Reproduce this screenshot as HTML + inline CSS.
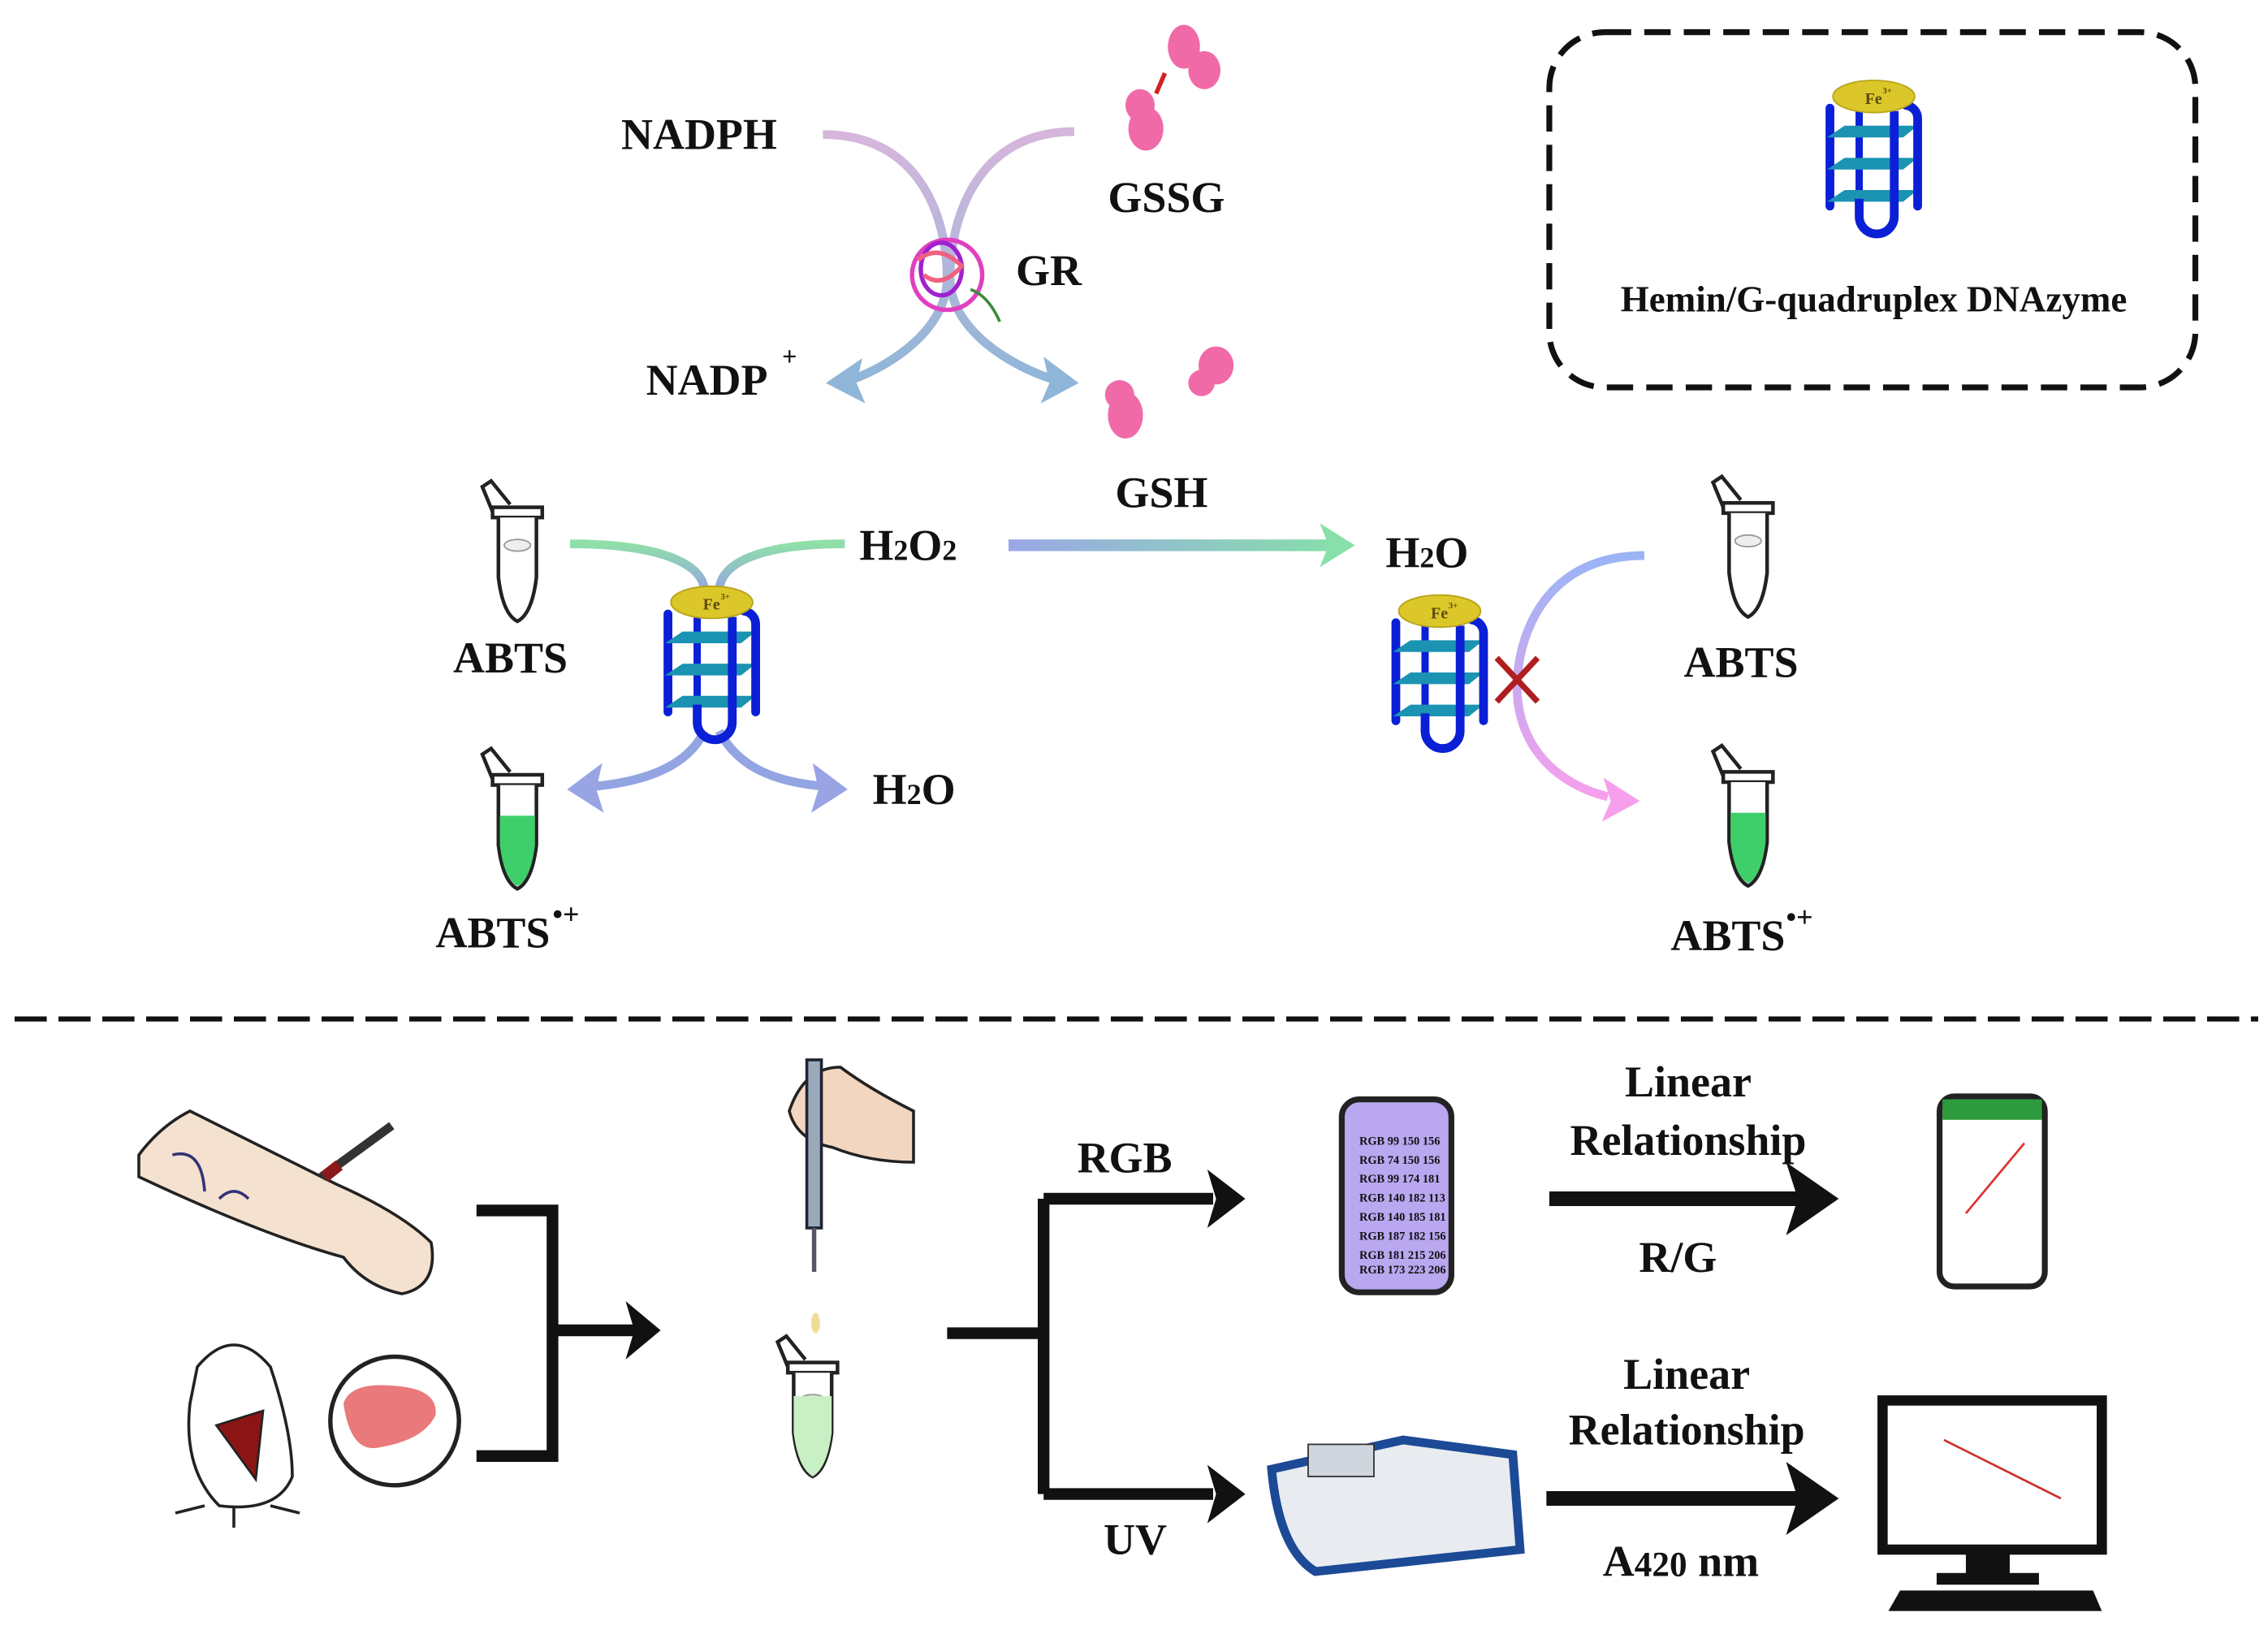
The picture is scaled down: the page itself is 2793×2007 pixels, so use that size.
<!DOCTYPE html>
<html><head><meta charset="utf-8"><style>
html,body{margin:0;padding:0;background:#fff}
svg{display:block}
text{font-family:"Liberation Serif","Times New Roman","DejaVu Serif",serif;font-weight:bold;fill:#111}
</style></head><body>
<svg width="2793" height="2007" viewBox="0 0 1551.7 1115" preserveAspectRatio="none" xmlns="http://www.w3.org/2000/svg" font-family="Liberation Serif, serif">
<defs>
<linearGradient id="gp" x1="0" y1="0" x2="0" y2="1"><stop offset="0" stop-color="#d7b6dc"/><stop offset="1" stop-color="#8fb6d8"/></linearGradient>
<linearGradient id="gh" gradientUnits="userSpaceOnUse" x1="690" y1="0" x2="920" y2="0"><stop offset="0" stop-color="#9aa8e6"/><stop offset="1" stop-color="#86e0a8"/></linearGradient>
<linearGradient id="gg" x1="0" y1="0" x2="0" y2="1"><stop offset="0" stop-color="#8fe0a8"/><stop offset="1" stop-color="#93a4e2"/></linearGradient>
<linearGradient id="gr" x1="0" y1="0" x2="0" y2="1"><stop offset="0" stop-color="#9ab4f4"/><stop offset="1" stop-color="#f6a0ec"/></linearGradient>
<g id="gq">
 <path d="M-30,8 V75" stroke="#0a1fd6" stroke-width="6" fill="none" stroke-linecap="round"/>
 <path d="M-10,10 V70" stroke="#0a1fd6" stroke-width="5" fill="none"/>
 <path d="M-32,28 L-20,20 H30 L20,28 Z M-32,50 L-20,42 H30 L20,50 Z M-32,72 L-20,64 H30 L20,72 Z" fill="#1b93b2"/>
 <path d="M-10,70 V82 A12,12 0 0 0 14,82 V10" stroke="#0a1fd6" stroke-width="6" fill="none"/>
 <path d="M22,6 A9,9 0 0 1 30,15 V75" stroke="#0a1fd6" stroke-width="6" fill="none" stroke-linecap="round"/>
 <ellipse cx="0" cy="0" rx="28" ry="11" fill="#dcc72a" stroke="#b8a21a"/>
 <text x="-6" y="5" font-size="11" style="fill:#5a4a10">Fe</text><text x="6" y="-2" font-size="6" style="fill:#5a4a10">3+</text>
</g>
<g id="tube">
 <path d="M-17,-25 L-24,-42 L-18,-46 L-5,-30" stroke="#222" stroke-width="2.5" fill="#fff"/>
 <rect x="-17" y="-28" width="34" height="7" fill="#fff" stroke="#222" stroke-width="2.5"/>
 <path d="M-13,-21 V20 Q-10,45 0,50 Q10,45 13,20 V-21" fill="#fff" stroke="#222" stroke-width="2.5"/>
 <ellipse cx="0" cy="-2" rx="9" ry="4" fill="#eee" stroke="#999"/>
</g>
<g id="gtube">
 <path d="M-17,-25 L-24,-42 L-18,-46 L-5,-30" stroke="#222" stroke-width="2.5" fill="#fff"/>
 <rect x="-17" y="-28" width="34" height="7" fill="#fff" stroke="#222" stroke-width="2.5"/>
 <path d="M-13,-21 V20 Q-10,45 0,50 Q10,45 13,20 V-21" fill="#fff" stroke="#222" stroke-width="2.5"/>
 <path d="M-12,0 V20 Q-9,44 0,48 Q9,44 12,20 V0 Z" fill="#3fcf6a"/>
</g>
</defs>

<rect x="1060" y="22" width="442" height="243" rx="38" fill="none" stroke="#111" stroke-width="4" stroke-dasharray="18,9"/>
<use href="#gq" transform="translate(1282,66)"/>
<text x="1282" y="213" font-size="25" text-anchor="middle">Hemin/G-quadruplex DNAzyme</text>

<path d="M563,92 C630,92 648,150 648,190 C648,225 610,250 582,260" stroke="url(#gp)" stroke-width="6" fill="none"/>
<path d="M735,90 C668,90 650,150 650,190 C650,225 690,250 722,260" stroke="url(#gp)" stroke-width="6" fill="none"/>
<path d="M565,262 L590,245 L586,262 L592,276 Z" fill="#8fb6d8"/>
<path d="M738,262 L714,244 L718,262 L712,276 Z" fill="#8fb6d8"/>
<g stroke-width="3" fill="none">
<ellipse cx="648" cy="188" rx="24" ry="24" stroke="#e040c0"/>
<ellipse cx="644" cy="184" rx="14" ry="18" stroke="#a020d0"/>
<path d="M628,178 q14,-12 30,4 q-14,16 -26,6" stroke="#f06080"/>
<path d="M664,198 q12,4 20,22" stroke="#3a8a3a" stroke-width="2"/>
</g>
<text x="425" y="102" font-size="30">NADPH</text>
<text x="758" y="145" font-size="30">GSSG</text>
<text x="695" y="195" font-size="30">GR</text>
<text x="442" y="270" font-size="30">NADP</text><text x="535" y="250" font-size="18">+</text>
<text x="763" y="347" font-size="30">GSH</text>
<g fill="#f06aa8">
<ellipse cx="810" cy="32" rx="11" ry="15"/><ellipse cx="824" cy="48" rx="11" ry="13"/>
<ellipse cx="784" cy="88" rx="12" ry="15"/><ellipse cx="780" cy="72" rx="10" ry="11"/>
<ellipse cx="770" cy="284" rx="12" ry="16"/><ellipse cx="766" cy="270" rx="10" ry="10"/>
<ellipse cx="832" cy="250" rx="12" ry="13"/><ellipse cx="822" cy="262" rx="9" ry="9"/>
</g>
<path d="M797,50 l-6,14" stroke="#d02020" stroke-width="3"/>

<path d="M390,372 C450,372 482,385 482,405" stroke="url(#gg)" stroke-width="6" fill="none"/>
<path d="M578,372 C520,372 492,385 492,405" stroke="url(#gg)" stroke-width="6" fill="none"/>
<path d="M482,500 C470,525 440,535 405,538" stroke="#93a4e2" stroke-width="6" fill="none"/>
<path d="M492,500 C505,525 530,535 565,538" stroke="#93a4e2" stroke-width="6" fill="none"/>
<path d="M388,540 L412,522 L408,540 L413,556 Z" fill="#98a4e4"/>
<path d="M580,540 L556,522 L560,540 L555,556 Z" fill="#98a4e4"/>
<use href="#gq" transform="translate(487,412)"/>
<use href="#tube" transform="translate(354,375)"/>
<use href="#gtube" transform="translate(354,558)"/>
<text x="310" y="460" font-size="30">ABTS</text>
<text x="298" y="648" font-size="30">ABTS</text><text x="378" y="632" font-size="20">•+</text>
<text x="588" y="383" font-size="30">H<tspan font-size="20">2</tspan>O<tspan font-size="20">2</tspan></text>
<text x="597" y="550" font-size="30">H<tspan font-size="20">2</tspan>O</text>

<rect x="690" y="369" width="222" height="8" fill="url(#gh)"/>
<path d="M927,373 L903,358 L909,373 L903,388 Z" fill="#86e0a8"/>
<text x="948" y="388" font-size="30">H<tspan font-size="20">2</tspan>O</text>

<path d="M1125,380 C1060,380 1040,430 1038,465 C1036,505 1060,535 1100,545" stroke="url(#gr)" stroke-width="6" fill="none"/>
<path d="M1122,548 L1097,532 L1102,548 L1096,562 Z" fill="#f6a0ec"/>
<use href="#gq" transform="translate(985,418)"/>
<path d="M1024,450 L1052,480 M1052,450 L1024,480" stroke="#b01e1e" stroke-width="4"/>
<use href="#tube" transform="translate(1196,372)"/>
<use href="#gtube" transform="translate(1196,556)"/>
<text x="1152" y="463" font-size="30">ABTS</text>
<text x="1143" y="650" font-size="30">ABTS</text><text x="1222" y="634" font-size="20">•+</text>

<line x1="10" y1="697" x2="1545" y2="697" stroke="#111" stroke-width="3.5" stroke-dasharray="22,8"/>

<path d="M95,790 Q110,770 130,760 L230,810 Q275,830 295,850 Q300,880 275,885 Q250,880 235,860 Q180,845 95,805 Z" fill="#f5e1cf" stroke="#222" stroke-width="2"/>
<path d="M220,805 L268,770" stroke="#333" stroke-width="6"/><path d="M222,805 l10,-8" stroke="#8a1a1a" stroke-width="8"/>
<path d="M118,790 q20,-5 22,25 M150,820 q10,-10 20,0" stroke="#337" stroke-width="2" fill="none"/>
<path d="M135,935 Q160,905 185,935 Q200,980 200,1010 Q190,1035 150,1030 Q125,1005 130,960 Z" fill="#fff" stroke="#222" stroke-width="2"/>
<path d="M148,975 L180,965 L175,1012 Z" fill="#8b1414" stroke="#222" stroke-width="1.5"/>
<path d="M140,1030 L120,1035 M185,1030 L205,1035 M160,1030 v15" stroke="#222" stroke-width="2"/>
<circle cx="270" cy="972" r="44" fill="#fff" stroke="#222" stroke-width="3"/>
<path d="M235,960 Q240,945 270,948 Q300,950 298,968 Q290,985 260,990 Q240,995 235,960 Z" fill="#e9797a"/>
<path d="M326,828 H378 V996 H326" stroke="#111" stroke-width="8" fill="none"/>
<path d="M378,910 H440" stroke="#111" stroke-width="8"/>
<path d="M452,910 L428,890 L434,910 L428,930 Z" fill="#111"/>
<path d="M575,730 Q595,745 625,760 V795 Q595,795 570,785 Q545,780 540,760 Q550,730 575,730 Z" fill="#f3d6c0" stroke="#222" stroke-width="2"/>
<rect x="552" y="725" width="10" height="115" fill="#9ab" stroke="#223" stroke-width="2"/>
<path d="M557,840 V870" stroke="#556" stroke-width="3"/>
<ellipse cx="558" cy="905" rx="3" ry="7" fill="#eedd99"/>
<use href="#tube" transform="translate(556,960)"/>
<path d="M543,955 V980 Q546,1004 556,1010 Q566,1004 569,980 V955 Z" fill="#c9f0c4"/>
<path d="M648,912 H714 M714,820 V1022 M714,820 H830 M714,1022 H830" stroke="#111" stroke-width="8" fill="none"/>
<path d="M852,820 L826,800 L832,820 L826,840 Z M852,1022 L826,1002 L832,1022 L826,1042 Z" fill="#111"/>
<text x="737" y="802" font-size="30">RGB</text>
<text x="755" y="1063" font-size="30">UV</text>
<rect x="918" y="752" width="75" height="132" rx="12" fill="#b9a7f0" stroke="#222" stroke-width="4"/>
<g font-size="8">
<text x="930" y="783">RGB 99 150 156</text><text x="930" y="796">RGB 74 150 156</text><text x="930" y="809">RGB 99 174 181</text><text x="930" y="822">RGB 140 182 113</text><text x="930" y="835">RGB 140 185 181</text><text x="930" y="848">RGB 187 182 156</text><text x="930" y="861">RGB 181 215 206</text><text x="930" y="871">RGB 173 223 206</text>
</g>
<path d="M1060,820 H1230" stroke="#111" stroke-width="10"/>
<path d="M1258,820 L1222,795 L1230,820 L1222,845 Z" fill="#111"/>
<text x="1155" y="750" font-size="30" text-anchor="middle">Linear</text>
<text x="1155" y="790" font-size="30" text-anchor="middle">Relationship</text>
<text x="1148" y="870" font-size="30" text-anchor="middle">R/G</text>
<rect x="1327" y="750" width="72" height="130" rx="10" fill="#fff" stroke="#222" stroke-width="4"/>
<rect x="1329" y="752" width="68" height="14" fill="#2e9a3e"/>
<path d="M1345,830 L1385,782" stroke="#d33" stroke-width="1.5"/>
<text x="1154" y="950" font-size="30" text-anchor="middle">Linear</text>
<text x="1154" y="988" font-size="30" text-anchor="middle">Relationship</text>
<text x="1150" y="1078" font-size="30" text-anchor="middle">A<tspan font-size="24">420</tspan> nm</text>
<path d="M1058,1025 H1230" stroke="#111" stroke-width="10"/>
<path d="M1258,1025 L1222,1000 L1230,1025 L1222,1050 Z" fill="#111"/>
<path d="M870,1005 L960,985 L1035,995 L1040,1060 L900,1075 Q875,1060 870,1005 Z" fill="#e8ecf0" stroke="#1c4a96" stroke-width="6"/>
<rect x="895" y="988" width="45" height="22" fill="#cfd6dd" stroke="#333"/>
<rect x="1288" y="958" width="150" height="102" fill="#fff" stroke="#111" stroke-width="7"/>
<path d="M1330,985 L1410,1025" stroke="#c33" stroke-width="1.5"/>
<rect x="1345" y="1060" width="30" height="18" fill="#111"/>
<rect x="1325" y="1076" width="70" height="8" fill="#111"/>
<path d="M1300,1088 H1432 L1438,1102 H1292 Z" fill="#111"/>
</svg>
</body></html>
